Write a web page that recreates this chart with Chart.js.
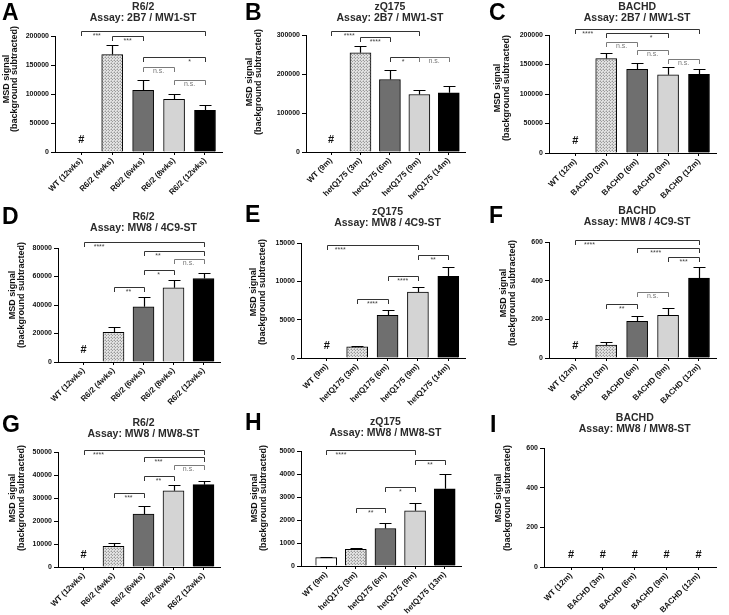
<!DOCTYPE html>
<html>
<head>
<meta charset="utf-8">
<title>MSD signal by assay and model</title>
<script src="https://cdn.jsdelivr.net/npm/chart.js@4.4.1/dist/chart.umd.min.js"></script>
<style>
  body { margin: 0; background: #fff; }
  #wrap { position: relative; width: 729px; height: 615px; }
  #wrap canvas { position: absolute; }
</style>
</head>
<body>
<div id="wrap">
  <canvas id="panelA" width="243" height="205" style="left:0px;top:0px"></canvas>
  <canvas id="panelB" width="243" height="205" style="left:243px;top:0px"></canvas>
  <canvas id="panelC" width="243" height="205" style="left:486px;top:0px"></canvas>
  <canvas id="panelD" width="243" height="205" style="left:0px;top:205px"></canvas>
  <canvas id="panelE" width="243" height="205" style="left:243px;top:205px"></canvas>
  <canvas id="panelF" width="243" height="205" style="left:486px;top:205px"></canvas>
  <canvas id="panelG" width="243" height="205" style="left:0px;top:410px"></canvas>
  <canvas id="panelH" width="243" height="205" style="left:243px;top:410px"></canvas>
  <canvas id="panelI" width="243" height="205" style="left:486px;top:410px"></canvas>
</div>
<script>
// groups on the x axis
const catsR62 = ['WT (12wks)', 'R6/2 (4wks)', 'R6/2 (6wks)', 'R6/2 (8wks)', 'R6/2 (12wks)'];
const catsQ175 = ['WT (9m)', 'hetQ175 (3m)', 'hetQ175 (6m)', 'hetQ175 (9m)', 'hetQ175 (14m)'];
const catsQ175H = ['WT (9m)', 'hetQ175 (3m)', 'hetQ175 (6m)', 'hetQ175 (9m)', 'hetQ175 (13m)'];
const catsBACHD = ['WT (12m)', 'BACHD (3m)', 'BACHD (6m)', 'BACHD (9m)', 'BACHD (12m)'];

// mean signal and SEM, null = below detection (#)
const valsA = [null, 168000, 106500, 91000, 72000];
const errsA = [null, 17000, 18500, 9800, 8700];
const valsB = [null, 254500, 186000, 147500, 152000];
const errsB = [null, 18000, 23000, 12500, 16000];
const valsC = [null, 160000, 142000, 132500, 133500];
const errsC = [null, 9000, 10000, 14000, 9500];
const valsD = [null, 20900, 38800, 52100, 58600];
const errsD = [null, 3500, 7000, 5300, 4000];
const valsE = [null, 1450, 5570, 8600, 10650];
const errsE = [null, 150, 730, 650, 1200];
const valsF = [null, 67, 190, 221, 414];
const errsF = [null, 16, 25, 39, 55];
const valsG = [null, 9000, 23000, 33100, 35800];
const errsG = [null, 1450, 3600, 2750, 1700];
const valsH = [363, 720, 1630, 2400, 3360];
const errsH = [40, 60, 250, 360, 660];
const valsI = [null, null, null, null, null];
const errsI = [null, null, null, null, null];

// y axis tick labels
const yTicksA = [0, 50000, 100000, 150000, 200000];
const yTicksB = [0, 100000, 200000, 300000];
const yTicksC = [0, 50000, 100000, 150000, 200000];
const yTicksD = [0, 20000, 40000, 60000, 80000];
const yTicksE = [0, 5000, 10000, 15000];
const yTicksF = [0, 200, 400, 600];
const yTicksG = [0, 10000, 20000, 30000, 40000, 50000];
const yTicksH = [0, 1000, 2000, 3000, 4000, 5000];
const yTicksI = [0, 200, 400, 600];

// significance brackets: [from group, to group, level, label, label at group]
const sigA = [[0, 4, 208600, '***', 0.5], [1, 2, 200600, '***', 1.5], [2, 4, 164300, '*', 3.5], [2, 3, 147000, 'n.s.', 2.5], [3, 4, 123900, 'n.s.', 3.5]];
const sigB = [[0, 3, 310300, '****', 0.62], [1, 2, 294000, '****', 1.5], [2, 3, 242600, '*', 2.45], [3, 4, 242600, 'n.s.', 3.5]];
const sigC = [[0, 4, 209600, '****', 0.4], [1, 3, 202800, '*', 2.45], [1, 2, 188200, 'n.s.', 1.5], [2, 3, 174600, 'n.s.', 2.5], [3, 4, 158900, 'n.s.', 3.5]];
const sigD = [[0, 4, 84200, '****', 0.52], [2, 4, 77900, '**', 2.48], [3, 4, 72600, 'n.s.', 3.5], [2, 3, 64400, '*', 2.5], [1, 2, 52800, '**', 1.5]];
const sigE = [[0, 3, 14780, '****', 0.44], [3, 4, 13390, '**', 3.5], [2, 3, 10700, '****', 2.5], [1, 2, 7740, '****', 1.5]];
const sigF = [[0, 4, 612, '****', 0.46], [2, 4, 569, '****', 2.6], [3, 4, 521, '***', 3.5], [2, 3, 340, 'n.s.', 2.5], [1, 2, 281, '**', 1.5]];
const sigG = [[0, 4, 51000, '****', 0.5], [2, 4, 47680, '***', 2.5], [3, 4, 44490, 'n.s.', 3.5], [2, 3, 39420, '**', 2.5], [1, 2, 32170, '***', 1.5]];
const sigH = [[0, 3, 5044, '****', 0.5], [3, 4, 4608, '**', 3.5], [2, 3, 3416, '*', 2.5], [1, 2, 2529, '**', 1.5]];
const sigI = [];

const yTitle = ['MSD signal', '(background subtracted)'];
const FONT = '"Liberation Sans", Arial, sans-serif';
Chart.defaults.font.family = FONT;

// cross hatch for the first model bar
const pc = document.createElement('canvas');
pc.width = 3; pc.height = 3;
const pg = pc.getContext('2d');
pg.fillStyle = '#e2e2e2';
pg.fillRect(0, 0, 3, 3);
pg.fillStyle = '#9a9a9a';
pg.fillRect(0, 0, 1, 1);
pg.fillRect(1, 1, 1, 1);
pg.fillStyle = '#c4c4c4';
pg.fillRect(2, 0, 1, 1);
pg.fillRect(0, 2, 1, 1);
const hatch = pg.createPattern(pc, 'repeat');
const barFills = ['#ffffff', hatch, '#6f6f6f', '#d4d4d4', '#000000'];

// box = [left, top, bottom, right] of the plot area inside each 243x205 cell
const panels = [
  { id: 'panelA', letter: 'A', strain: 'R6/2', assay: 'Assay: 2B7 / MW1-ST', cats: catsR62, vals: valsA, errs: errsA, yTicks: yTicksA, sig: sigA,
    box: [55, 36, 152, 222], titleY: 7, letterAt: [2, 20], yTitleAt: [6.5, 79] },
  { id: 'panelB', letter: 'B', strain: 'zQ175', assay: 'Assay: 2B7 / MW1-ST', cats: catsQ175, vals: valsB, errs: errsB, yTicks: yTicksB, sig: sigB,
    box: [63, 35, 152, 222], titleY: 7, letterAt: [2, 20], yTitleAt: [7, 82] },
  { id: 'panelC', letter: 'C', strain: 'BACHD', assay: 'Assay: 2B7 / MW1-ST', cats: catsBACHD, vals: valsC, errs: errsC, yTicks: yTicksC, sig: sigC,
    box: [63, 35, 153, 230], titleY: 7, letterAt: [3, 20], yTitleAt: [12, 88] },
  { id: 'panelD', letter: 'D', strain: 'R6/2', assay: 'Assay: MW8 / 4C9-ST', cats: catsR62, vals: valsD, errs: errsD, yTicks: yTicksD, sig: sigD,
    box: [58, 43, 157, 220], titleY: 12, letterAt: [2, 19], yTitleAt: [13, 90] },
  { id: 'panelE', letter: 'E', strain: 'zQ175', assay: 'Assay: MW8 / 4C9-ST', cats: catsQ175, vals: valsE, errs: errsE, yTicks: yTicksE, sig: sigE,
    box: [58, 38, 153, 222], titleY: 7, letterAt: [2, 17], yTitleAt: [11, 87] },
  { id: 'panelF', letter: 'F', strain: 'BACHD', assay: 'Assay: MW8 / 4C9-ST', cats: catsBACHD, vals: valsF, errs: errsF, yTicks: yTicksF, sig: sigF,
    box: [63, 37, 153, 230], titleY: 6, letterAt: [3, 18], yTitleAt: [18, 88] },
  { id: 'panelG', letter: 'G', strain: 'R6/2', assay: 'Assay: MW8 / MW8-ST', cats: catsR62, vals: valsG, errs: errsG, yTicks: yTicksG, sig: sigG,
    box: [58, 42, 157, 220], titleY: 13, letterAt: [2, 22], yTitleAt: [13, 88] },
  { id: 'panelH', letter: 'H', strain: 'zQ175', assay: 'Assay: MW8 / MW8-ST', cats: catsQ175H, vals: valsH, errs: errsH, yTicks: yTicksH, sig: sigH,
    box: [58, 41, 156, 218], titleY: 12, letterAt: [2, 20], yTitleAt: [12, 88] },
  { id: 'panelI', letter: 'I', strain: 'BACHD', assay: 'Assay: MW8 / MW8-ST', cats: catsBACHD, vals: valsI, errs: errsI, yTicks: yTicksI, sig: sigI,
    box: [58, 38, 157, 230], titleY: 8, letterAt: [4, 22], yTitleAt: [13, 88] }
];

function makePanel(p) {
  const canvas = document.getElementById(p.id);
  const W = canvas.width, H = canvas.height;
  const [left, top, bottom, right] = p.box;

  // error bars, # marks, brackets and all the labels around the plot
  const overlay = {
    id: 'overlay' + p.letter,
    afterDatasetsDraw(chart) {
      const ctx = chart.ctx;
      const xs = chart.scales.x, ys = chart.scales.y;
      const y0 = ys.getPixelForValue(0);
      ctx.save();

      ctx.strokeStyle = '#000';
      ctx.lineWidth = 1.2;
      p.vals.forEach(function(v, i) {
        if (v === null || p.errs[i] === null) return;
        const x = Math.round(xs.getPixelForValue(i)) + 0.5;
        const yv = ys.getPixelForValue(v);
        const ye = Math.round(ys.getPixelForValue(v + p.errs[i])) + 0.5;
        ctx.beginPath();
        ctx.moveTo(x, yv); ctx.lineTo(x, ye);
        ctx.moveTo(x - 6, ye); ctx.lineTo(x + 6, ye);
        ctx.stroke();
      });

      ctx.fillStyle = '#111';
      ctx.font = 'bold 11px ' + FONT;
      ctx.textAlign = 'center';
      ctx.textBaseline = 'middle';
      p.vals.forEach(function(v, i) {
        if (v === null) ctx.fillText('#', xs.getPixelForValue(i), y0 - 12);
      });

      ctx.lineWidth = 1;
      ctx.font = '7px ' + FONT;
      p.sig.forEach(function(s) {
        const xa = Math.round(xs.getPixelForValue(s[0])) + 0.5;
        const xb = Math.round(xs.getPixelForValue(s[1])) + 0.5;
        const yy = Math.round(ys.getPixelForValue(s[2])) + 0.5;
        const ns = s[3].indexOf('n') === 0;
        ctx.strokeStyle = ns ? '#7a7a7a' : '#333';
        ctx.beginPath();
        ctx.moveTo(xa, yy + 4.5); ctx.lineTo(xa, yy); ctx.lineTo(xb, yy); ctx.lineTo(xb, yy + 4.5);
        ctx.stroke();
        ctx.fillStyle = ns ? '#777' : '#444';
        ctx.fillText(s[3], xs.getPixelForValue(s[4]), yy + (ns ? 4 : 5));
      });

      // panel title over the middle group
      const xc = xs.getPixelForValue(2);
      ctx.fillStyle = '#2a2a2a';
      ctx.font = 'bold 10.5px ' + FONT;
      ctx.fillText(p.strain, xc, p.titleY);
      ctx.fillText(p.assay, xc, p.titleY + 11);

      // y axis title
      ctx.font = 'bold 9px ' + FONT;
      ctx.fillStyle = '#111';
      yTitle.forEach(function(line, k) {
        ctx.save();
        ctx.translate(p.yTitleAt[0] + k * 8.5, p.yTitleAt[1]);
        ctx.rotate(-Math.PI / 2);
        ctx.fillText(line, 0, 0);
        ctx.restore();
      });

      // panel letter
      ctx.font = 'bold 23px ' + FONT;
      ctx.fillStyle = '#000';
      ctx.textAlign = 'left';
      ctx.textBaseline = 'alphabetic';
      ctx.fillText(p.letter, p.letterAt[0], p.letterAt[1]);
      ctx.restore();
    }
  };

  return new Chart(canvas.getContext('2d'), {
    type: 'bar',
    data: {
      datasets: [{
        data: p.vals.map((v, i) => ({ x: i, y: v })),
        backgroundColor: barFills,
        borderColor: '#000',
        borderWidth: 1,
        barThickness: 21
      }]
    },
    options: {
      responsive: false,
      animation: false,
      devicePixelRatio: 1,
      layout: { padding: { left: 0, top: top, right: W - right, bottom: 0 } },
      plugins: { legend: { display: false }, tooltip: { enabled: false } },
      scales: {
        x: {
          type: 'linear',
          offset: false,
          min: -0.85,
          max: 4.55,
          afterBuildTicks: axis => { axis.ticks = p.cats.map((c, i) => ({ value: i })); },
          afterFit: axis => { axis.height = H - bottom; },
          ticks: {
            callback: v => p.cats[v],
            autoSkip: false,
            minRotation: 45,
            maxRotation: 45,
            padding: 1,
            color: '#111',
            font: { size: 8, weight: 'bold' }
          },
          grid: { offset: false, drawOnChartArea: false, tickLength: 3, tickColor: '#000' },
          border: { color: '#000', width: 1 }
        },
        y: {
          min: 0,
          max: p.yTicks[p.yTicks.length - 1],
          afterBuildTicks: axis => { axis.ticks = p.yTicks.map(v => ({ value: v })); },
          afterFit: axis => { axis.width = left; },
          ticks: {
            callback: v => String(v),
            padding: 2,
            color: '#111',
            font: { size: 7, weight: 'bold' }
          },
          grid: { drawOnChartArea: false, tickLength: 4, tickColor: '#000' },
          border: { color: '#000', width: 1 }
        }
      }
    },
    plugins: [overlay]
  });
}

panels.forEach(makePanel);
</script>
</body>
</html>
